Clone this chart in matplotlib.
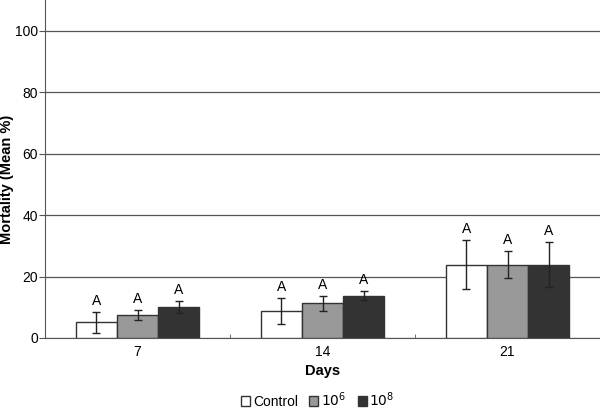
import matplotlib
matplotlib.use("Agg")
import matplotlib.pyplot as plt
import numpy as np

plt.rcParams['font.family'] = ['Liberation Sans', 'DejaVu Sans']

days = ["7", "14", "21"]
series = ["Control", "$10^6$", "$10^8$"]
control = [5.1, 8.8, 23.9]
e6 = [7.5, 11.3, 23.9]
e8 = [10.0, 13.8, 23.9]
control_err = [3.5, 4.3, 8.0]
e6_err = [1.5, 2.4, 4.4]
e8_err = [2.0, 1.4, 7.3]
letters = [["A", "A", "A"], ["A", "A", "A"], ["A", "A", "A"]]
colors = ["white", "#999999", "#333333"]

fig = plt.figure(figsize=(6, 4.09), dpi=100)
ax = fig.add_axes([0.075, 0.1736, 0.925, 0.8264])

x = np.arange(len(days))
w = 0.222
vals = [control, e6, e8]
errs = [control_err, e6_err, e8_err]
for i, (v, e, c) in enumerate(zip(vals, errs, colors)):
    pos = x + (i - 1) * w
    ax.bar(pos, v, width=w, color=c, edgecolor="#333333", linewidth=1.0, zorder=3, label=series[i])
    ax.errorbar(pos, v, yerr=e, fmt="none", ecolor="#222222", elinewidth=1.0, capsize=3, capthick=1.0, zorder=4)
    for j in range(len(days)):
        ax.text(pos[j], v[j] + e[j] + 1.3, letters[j][i], ha="center", va="bottom", fontsize=10)

ax.set_xlim(-0.5, 2.5)
ax.set_ylim(0, 110)
ax.set_yticks([0, 20, 40, 60, 80, 100])
ax.set_xticks(x)
ax.set_xticklabels(days, fontsize=10)
ax.set_xticks([0.5, 1.5], minor=True)
ax.tick_params(axis="x", which="major", length=0, pad=5)
ax.tick_params(axis="x", which="minor", length=3, direction="in", color="#555555")
ax.tick_params(axis="y", labelsize=10, length=4, color="#555555", pad=1)
ax.yaxis.grid(True, color="#555555", linewidth=0.9, zorder=0)
ax.set_axisbelow(True)
for s in ["top", "right"]:
    ax.spines[s].set_visible(False)
ax.spines["left"].set_color("#555555")
ax.spines["bottom"].set_color("#555555")

ax.set_xlabel("Days", fontsize=10.5, fontweight="bold", labelpad=4)
ax.set_ylabel("Mortality (Mean %)", fontsize=10.5, fontweight="bold")
ax.yaxis.set_label_coords(-0.055, 0.47)

handles, labs = ax.get_legend_handles_labels()
fig.legend(handles, labs, loc="lower center", bbox_to_anchor=(0.53, -0.03), ncol=3, frameon=False,
           fontsize=10, handlelength=0.65, handleheight=0.65, handletextpad=0.2, columnspacing=0.8)

fig.savefig("out.png", dpi=100)
